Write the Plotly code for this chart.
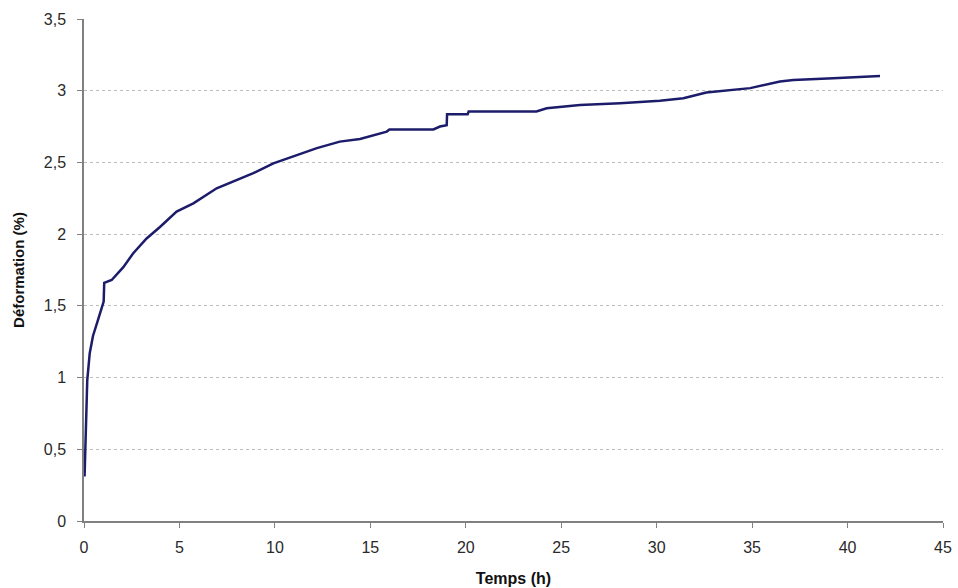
import plotly.graph_objects as go

temps_h = [0.03, 0.07, 0.12, 0.17, 0.30, 0.47, 0.73, 0.99, 1.03, 1.06, 1.45, 2.06, 2.58, 3.28,
           3.98, 4.85, 5.73, 6.95, 7.82, 8.87, 9.92, 10.96, 12.20, 13.40, 14.46, 15.86, 16.00,
           18.30, 18.65, 19.00, 19.02, 20.10, 20.15, 23.70, 24.24, 25.98, 28.08, 30.17,
           31.40, 32.60, 34.90, 36.46, 37.16, 39.25, 41.70]
deformation_pct = [0.31, 0.51, 0.76, 0.98, 1.17, 1.29, 1.40, 1.51, 1.53, 1.66, 1.68, 1.77, 1.867, 1.97,
                   2.05, 2.157, 2.215, 2.32, 2.366, 2.425, 2.494, 2.54, 2.60, 2.645, 2.664, 2.715, 2.73,
                   2.73, 2.75, 2.76, 2.836, 2.836, 2.855, 2.855, 2.878, 2.90, 2.912, 2.93,
                   2.947, 2.987, 3.018, 3.064, 3.075, 3.087, 3.103]

x_ticks = [0, 5, 10, 15, 20, 25, 30, 35, 40, 45]
y_ticks = [0, 0.5, 1, 1.5, 2, 2.5, 3, 3.5]

fig = go.Figure()
fig.add_trace(go.Scatter(x=temps_h, y=deformation_pct, mode="lines",
                         line=dict(color="#1c1c6b", width=2.5), showlegend=False))

fig.update_layout(
    width=958, height=588,
    margin=dict(l=84, r=15, t=19, b=67, autoexpand=False),
    paper_bgcolor="white", plot_bgcolor="white",
    separators=", ",
    font=dict(family="Liberation Sans, Arial, sans-serif", size=16, color="#2a2a2a"),
)
fig.update_xaxes(
    range=[0, 45], tickvals=x_ticks, ticks="outside", ticklen=5, tickcolor="#808080",
    ticklabelstandoff=6,
    showline=True, linecolor="#808080", linewidth=1.5, showgrid=False, zeroline=False,
    title=dict(text="<b>Temps (h)</b>", font=dict(size=16, color="#111111"), standoff=18),
    tickfont=dict(size=16, color="#2a2a2a"),
)
fig.update_yaxes(
    range=[0, 3.5], tickvals=y_ticks, ticks="outside", ticklen=5, tickcolor="#808080",
    ticklabelstandoff=8,
    showline=True, linecolor="#808080", linewidth=1.5, zeroline=False,
    showgrid=True, gridcolor="#bdbdbd", griddash="dot", gridwidth=1,
    title=dict(text="<b>Déformation (%)</b>", font=dict(size=15, color="#111111"), standoff=16),
    tickfont=dict(size=16, color="#2a2a2a"),
)

fig.write_html("out.html", config={"displayModeBar": False},
               post_script="document.body.style.margin='0';document.body.style.overflow='hidden';")
